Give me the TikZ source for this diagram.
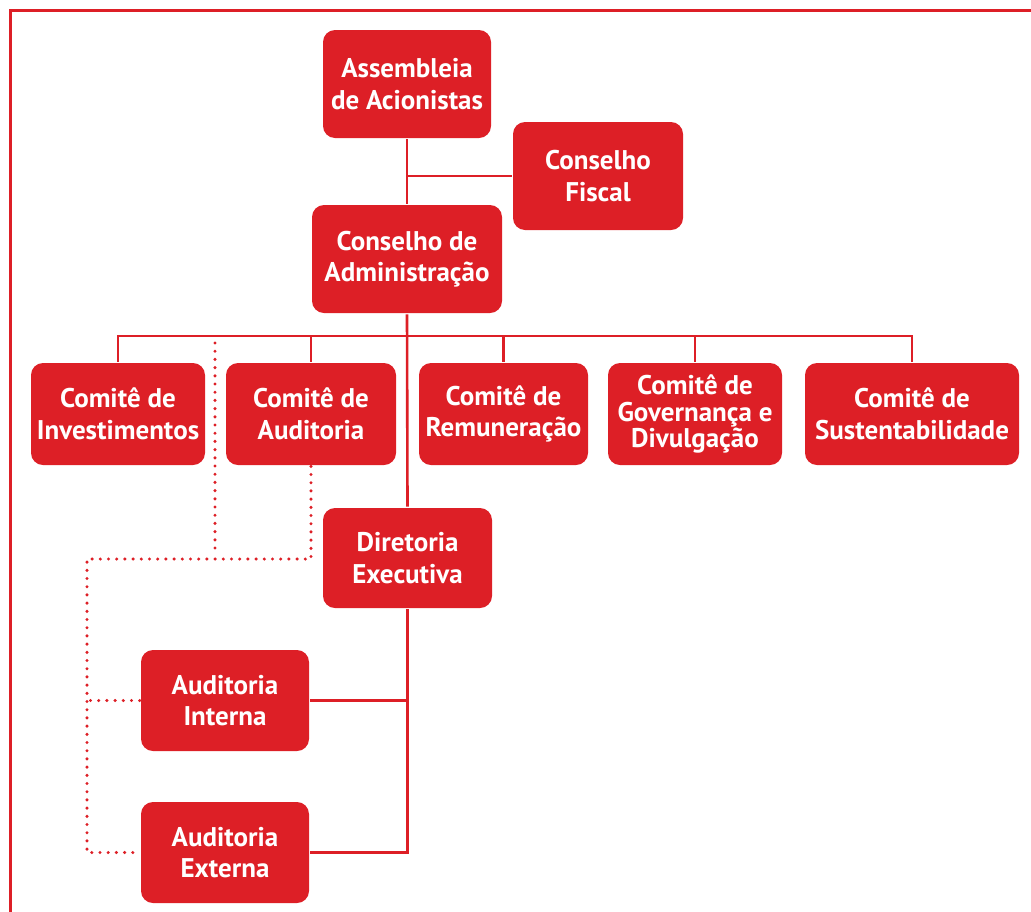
\documentclass[tikz,border=0pt]{standalone}
\usepackage{fontspec}
\setmainfont{PT Sans}
\definecolor{orgred}{RGB}{221,31,38}
\begin{document}
\begin{tikzpicture}[x=1pt, y=-1pt, line width=2.6pt,
  box/.style={fill=orgred, rounded corners=12pt, text=white, align=center,
    inner sep=0pt, font=\bfseries\fontsize{27}{31.5}\selectfont},
  link/.style={draw=orgred},
  dotline/.style={draw=orgred, line width=3.4pt, line cap=round, dash pattern=on 0pt off 8.2pt}]
  \useasboundingbox (0,0) rectangle (1031,911);
  \draw[orgred, line width=3pt] (10,1100) |- (1100,10.5);
  % top levels
  \node[box, minimum width=168pt, minimum height=108pt] (assem) at (407,84) {Assembleia\\de Acionistas};
  \node[box, minimum width=170pt, minimum height=108pt] (fiscal) at (598,176) {Conselho\\Fiscal};
  \node[box, minimum width=190pt, minimum height=108pt] (admin) at (407,259) {Conselho de\\Administração};
  % committees
  \node[box, minimum width=174pt, minimum height=102pt] (inv) at (118,414) {Comitê de\\Investimentos};
  \node[box, minimum width=170pt, minimum height=102pt] (aud) at (311,414) {Comitê de\\Auditoria};
  \node[box, minimum width=169pt, minimum height=102pt] (rem) at (503.5,414) {Comitê de\\Remuneração};
  \node[box, minimum width=174pt, minimum height=102pt, font=\bfseries\fontsize{27}{26.5}\selectfont] (gov) at (695,414) {Comitê de\\Governança e\\Divulgação};
  \node[box, minimum width=214pt, minimum height=102pt] (sus) at (912,414) {Comitê de\\Sustentabilidade};
  % executive and audit
  \node[box, minimum width=169pt, minimum height=100pt] (dir) at (407.5,558) {Diretoria\\Executiva};
  \node[box, minimum width=168pt, minimum height=101pt] (audint) at (225,700.5) {Auditoria\\Interna};
  \node[box, minimum width=168pt, minimum height=101pt] (audext) at (225,852.5) {Auditoria\\Externa};
  \coordinate (bus) at (407,336);
  \coordinate (dotL) at (87,559);
  \coordinate (dotT) at (215,343);
  % solid connectors
  \draw[link] (assem.south) -- (admin.north);
  \draw[link] (fiscal.west) -- (fiscal.west -| assem.south);
  \draw[link] (admin.south) -- (dir.north);
  \draw[link] (inv.north) |- (bus) -| (sus.north);
  \foreach \n in {aud,rem,gov}
    \draw[link] (\n.north) -- (\n.north |- bus);
  \draw[link] (dir.south) |- (audext.east);
  \draw[link] (audint.east) -- (audint.east -| dir.south);
  % dotted connectors
  \draw[dotline] (aud.south) |- (dotL) |- (audext.west);
  \draw[dotline] (audint.west) -- (audint.west -| dotL);
  \draw[dotline] (dotT) -- (dotT |- 0,552);
\end{tikzpicture}
\end{document}
